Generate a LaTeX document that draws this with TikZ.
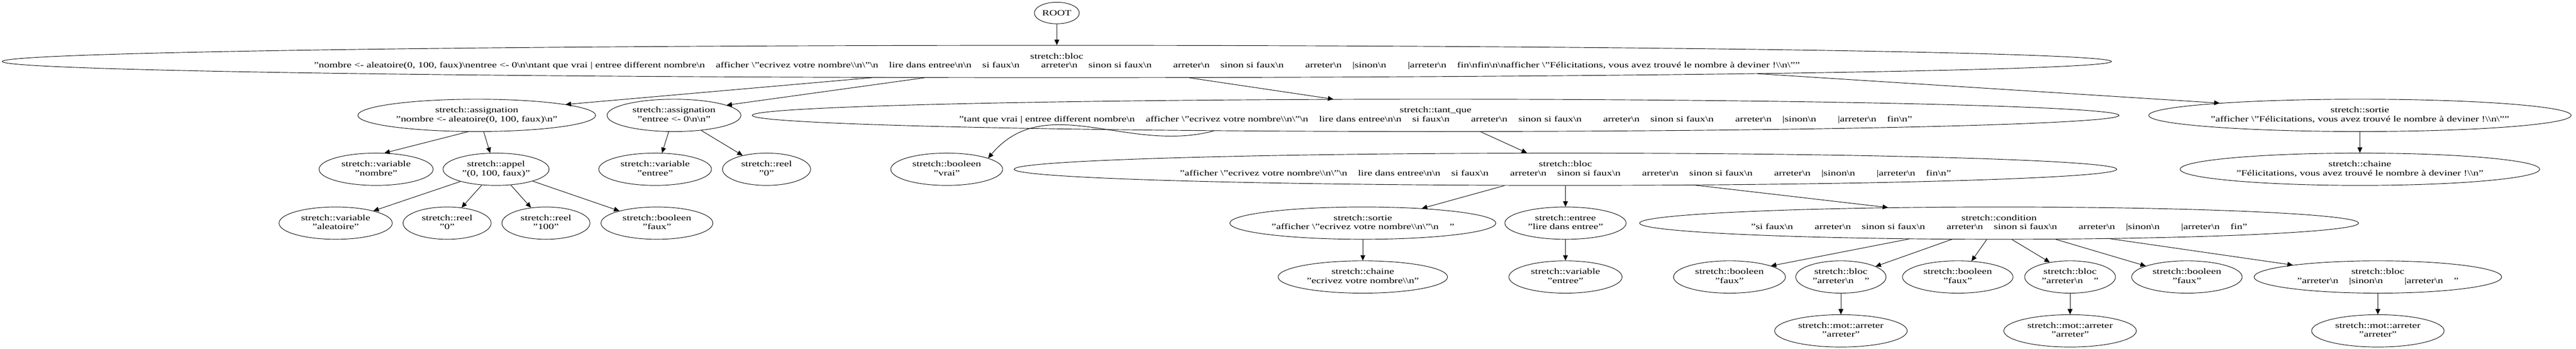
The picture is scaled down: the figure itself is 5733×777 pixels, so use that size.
\documentclass[tikz,border=0pt]{standalone}
\usepackage{fontspec}
\setmainfont{Liberation Serif}
\usepackage{graphicx}
\usetikzlibrary{arrows.meta,shapes.geometric}
\newcommand\BN{\textbackslash n}
\newcommand\BQ{\textbackslash"}
\newcommand\BBN{\textbackslash\textbackslash n}
\newcommand\SPA{~~~~}
\newcommand\SPB{~~~~~~~~}
\newcommand\LBL[2]{\scalebox{1.33}[1]{\begin{tabular}{@{}c@{}}#1\\#2\end{tabular}}}
\begin{document}
\begin{tikzpicture}[x=0.75pt,y=-0.75pt,
  nd/.style={draw, ellipse, line width=0.8pt, inner xsep=-40pt, inner ysep=0pt, minimum height=54pt,
    font=\fontsize{13.5}{15}\selectfont},
  arr/.style={line width=0.8pt, -{Triangle[length=9pt,width=8pt]}}]
\fill[white] (0,0) rectangle (5733,777);
\useasboundingbox (0,0) rectangle (5733,777);
% rank 0
\node[nd, minimum width=75pt, minimum height=36pt] (root) at (2352,29) {\scalebox{1.33}[1]{ROOT}};
% rank 1
\node[nd, minimum width=3520.5pt] (b0) at (2352,137) {\LBL{stretch::bloc}{"nombre <- aleatoire(0, 100, faux)\BN entree <- 0\BN\BN tant que vrai | entree different nombre\BN\SPA afficher \BQ ecrivez votre nombre\BBN\BQ\BN\SPA lire dans entree\BN\BN\SPA si faux\BN\SPB arreter\BN\SPA sinon si faux\BN\SPB arreter\BN\SPA sinon si faux\BN\SPB arreter\BN\SPA |sinon\BN\SPB |arreter\BN\SPA fin\BN fin\BN\BN afficher \BQ Félicitations, vous avez trouvé le nombre à deviner !\BBN\BQ"}};
% rank 2
\node[nd, minimum width=396.75pt] (asg1) at (1061,257) {\LBL{stretch::assignation}{"nombre <- aleatoire(0, 100, faux)\BN"}};
\node[nd, minimum width=223.5pt] (asg2) at (1500,257) {\LBL{stretch::assignation}{"entree <- 0\BN\BN"}};
\node[nd, minimum width=2281.5pt] (tq) at (3195,257) {\LBL{stretch::tant\_que}{"tant que vrai | entree different nombre\BN\SPA afficher \BQ ecrivez votre nombre\BBN\BQ\BN\SPA lire dans entree\BN\BN\SPA si faux\BN\SPB arreter\BN\SPA sinon si faux\BN\SPB arreter\BN\SPA sinon si faux\BN\SPB arreter\BN\SPA |sinon\BN\SPB |arreter\BN\SPA fin\BN"}};
\node[nd, minimum width=705pt] (so1) at (5252,257) {\LBL{stretch::sortie}{"afficher \BQ Félicitations, vous avez trouvé le nombre à deviner !\BBN\BQ"}};
% rank 3
\node[nd, minimum width=190.5pt] (var1) at (837,377) {\LBL{stretch::variable}{"nombre"}};
\node[nd, minimum width=177pt] (appel) at (1104,377) {\LBL{stretch::appel}{"(0, 100, faux)"}};
\node[nd, minimum width=188.25pt] (var2) at (1458,377) {\LBL{stretch::variable}{"entree"}};
\node[nd, minimum width=147pt] (reel1) at (1706,377) {\LBL{stretch::reel}{"0"}};
\node[nd, minimum width=186.75pt] (boolv) at (2107,377) {\LBL{stretch::booleen}{"vrai"}};
\node[nd, minimum width=1840.5pt] (bloc1) at (3484,377) {\LBL{stretch::bloc}{"afficher \BQ ecrivez votre nombre\BBN\BQ\BN\SPA lire dans entree\BN\BN\SPA si faux\BN\SPB arreter\BN\SPA sinon si faux\BN\SPB arreter\BN\SPA sinon si faux\BN\SPB arreter\BN\SPA |sinon\BN\SPB |arreter\BN\SPA fin\BN"}};
\node[nd, minimum width=600pt] (ch1) at (5252,377) {\LBL{stretch::chaine}{"Félicitations, vous avez trouvé le nombre à deviner !\BBN"}};
% rank 4
\node[nd, minimum width=189pt] (aleat) at (747,497) {\LBL{stretch::variable}{"aleatoire"}};
\node[nd, minimum width=147pt] (reel2) at (995,497) {\LBL{stretch::reel}{"0"}};
\node[nd, minimum width=147pt] (reel3) at (1215,497) {\LBL{stretch::reel}{"100"}};
\node[nd, minimum width=186.75pt] (boolf1) at (1462,497) {\LBL{stretch::booleen}{"faux"}};
\node[nd, minimum width=444pt] (so2) at (3033,497) {\LBL{stretch::sortie}{"afficher \BQ ecrivez votre nombre\BBN\BQ\BN\SPA"}};
\node[nd, minimum width=202.5pt] (ent) at (3484,497) {\LBL{stretch::entree}{"lire dans entree"}};
\node[nd, minimum width=1200pt] (cond) at (4449,497) {\LBL{stretch::condition}{"si faux\BN\SPB arreter\BN\SPA sinon si faux\BN\SPB arreter\BN\SPA sinon si faux\BN\SPB arreter\BN\SPA |sinon\BN\SPB |arreter\BN\SPA fin"}};
% rank 5
\node[nd, minimum width=282.75pt] (ch2) at (3033,617) {\LBL{stretch::chaine}{"ecrivez votre nombre\BBN"}};
\node[nd, minimum width=189pt] (var3) at (3484,617) {\LBL{stretch::variable}{"entree"}};
\node[nd, minimum width=186.75pt] (bf2) at (3849,617) {\LBL{stretch::booleen}{"faux"}};
\node[nd, minimum width=150.75pt] (bl2) at (4097,617) {\LBL{stretch::bloc}{"arreter\BN\SPA"}};
\node[nd, minimum width=184.5pt] (bf3) at (4357,617) {\LBL{stretch::booleen}{"faux"}};
\node[nd, minimum width=151.5pt] (bl3) at (4607,617) {\LBL{stretch::bloc}{"arreter\BN\SPA"}};
\node[nd, minimum width=184.5pt] (bf4) at (4867,617) {\LBL{stretch::booleen}{"faux"}};
\node[nd, minimum width=413.25pt] (bl4) at (5292,617) {\LBL{stretch::bloc}{"arreter\BN\SPA |sinon\BN\SPB |arreter\BN\SPA"}};
% rank 6
\node[nd, minimum width=221.25pt] (m1) at (4097,737) {\LBL{stretch::mot::arreter}{"arreter"}};
\node[nd, minimum width=221.25pt] (m2) at (4607,737) {\LBL{stretch::mot::arreter}{"arreter"}};
\node[nd, minimum width=221.25pt] (m3) at (5292,737) {\LBL{stretch::mot::arreter}{"arreter"}};
% edges
\draw[arr] (root.south) -- (b0.north);
\draw[arr] (b0.-175.7) -- (asg1.7.3);
\draw[arr] (b0.-173.95) -- (asg2.11);
\draw[arr] (b0.-7.9) -- (tq.171.6);
\draw[arr] (b0.-1.6) -- (so1.175.7);
\draw[arr] (asg1.-118.2) -- (var1.63.1);
\draw[arr] (asg1.-67.3) -- (appel.110);
\draw[arr] (asg2.-108.5) -- (var2.67.2);
\draw[arr] (asg2.-29.8) -- (reel1.150.9);
\draw[arr] (tq.-176.5) to[out=-165,in=50] (boolv.15.8);
\draw[arr] (tq.-20.7) -- (bloc1.157.3);
\draw[arr] (so1.south) -- (ch1.north);
\draw[arr] (appel.-161.7) -- (aleat.18.1);
\draw[arr] (appel.-132.7) -- (reel2.47.8);
\draw[arr] (appel.-47.3) -- (reel3.134.8);
\draw[arr] (appel.-18.3) -- (boolf1.162.4);
\draw[arr] (bloc1.-165) -- (so2.14.1);
\draw[arr] (bloc1.south) -- (ent.north);
\draw[arr] (bloc1.-7.2) -- (cond.172.9);
\draw[arr] (so2.south) -- (ch2.north);
\draw[arr] (ent.south) -- (var3.north);
\draw[arr] (cond.-170.5) -- (bf2.15.1);
\draw[arr] (cond.-161.2) -- (bl2.17);
\draw[arr] (cond.-127.9) -- (bf3.49.3);
\draw[arr] (cond.-52.6) -- (bl3.144.4);
\draw[arr] (cond.-16.3) -- (bf4.165.1);
\draw[arr] (cond.-8.3) -- (bl4.172);
\draw[arr] (bl2.south) -- (m1.north);
\draw[arr] (bl3.south) -- (m2.north);
\draw[arr] (bl4.south) -- (m3.north);
\end{tikzpicture}
\end{document}
